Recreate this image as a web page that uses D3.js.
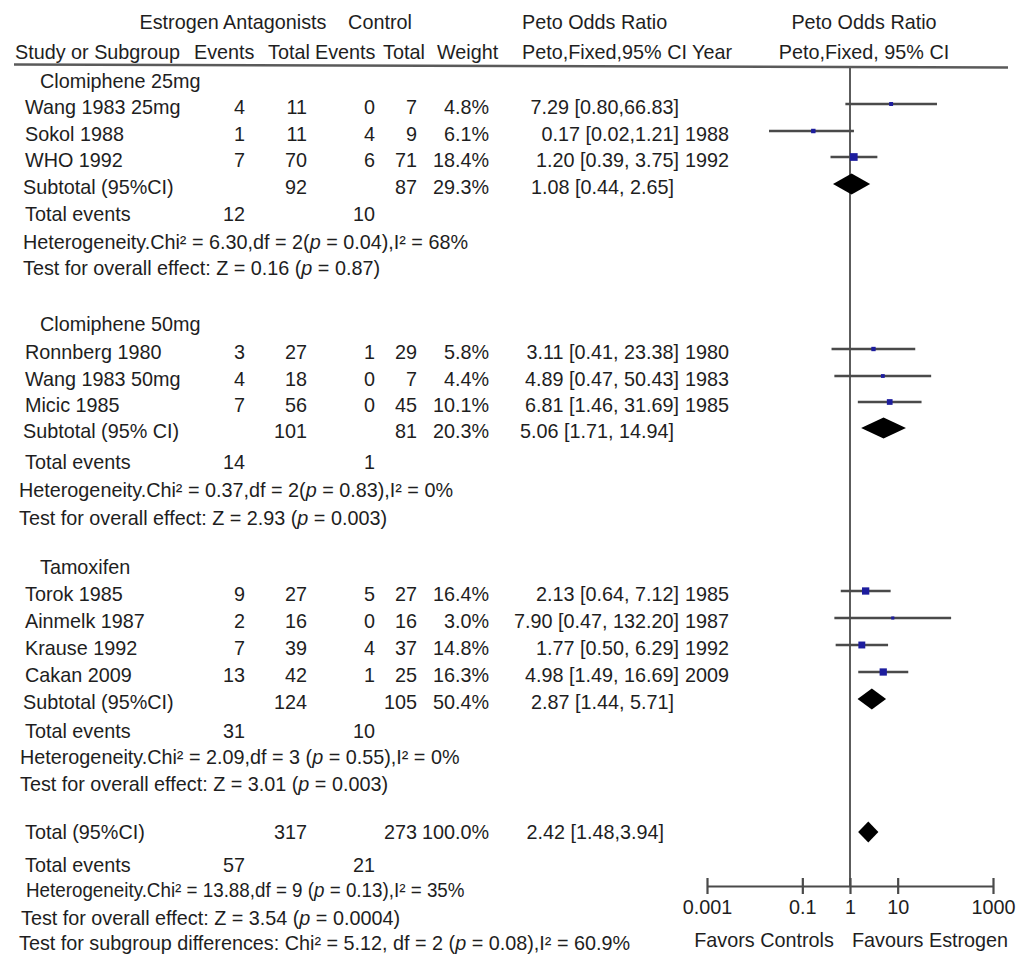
<!DOCTYPE html>
<html>
<head>
<meta charset="utf-8">
<script src="https://cdn.jsdelivr.net/npm/d3@7"></script>
<style>
  html, body { margin: 0; padding: 0; background: #fff; }
  svg text { font-family: "Liberation Sans", Arial, sans-serif; font-size: 19.8px; fill: #1e1e1e; }
</style>
</head>
<body>
<svg id="chart" width="1016" height="957"></svg>
<script>
// ---------------- data ----------------
const subgroups = ["Clomiphene 25mg", "Clomiphene 50mg", "Tamoxifen"];

const studies = ["Wang 1983 25mg", "Sokol 1988", "WHO 1992",
                 "Ronnberg 1980", "Wang 1983 50mg", "Micic 1985",
                 "Torok 1985", "Ainmelk 1987", "Krause 1992", "Cakan 2009"];
const studySubgroup = [0, 0, 0, 1, 1, 1, 2, 2, 2, 2];
const studyYear   = ["", "1988", "1992", "1980", "1983", "1985", "1985", "1987", "1992", "2009"];
const expEvents   = [4, 1, 7, 3, 4, 7, 9, 2, 7, 13];
const expTotal    = [11, 11, 70, 27, 18, 56, 27, 16, 39, 42];
const ctlEvents   = [0, 4, 6, 1, 0, 0, 5, 0, 4, 1];
const ctlTotal    = [7, 9, 71, 29, 7, 45, 27, 16, 37, 25];
const studyWeight = [4.8, 6.1, 18.4, 5.8, 4.4, 10.1, 16.4, 3.0, 14.8, 16.3];
const studyOR     = [7.29, 0.17, 1.20, 3.11, 4.89, 6.81, 2.13, 7.90, 1.77, 4.98];
const studyLow    = [0.80, 0.02, 0.39, 0.41, 0.47, 1.46, 0.64, 0.47, 0.50, 1.49];
const studyHigh   = [66.83, 1.21, 3.75, 23.38, 50.43, 31.69, 7.12, 132.20, 6.29, 16.69];
const studyCiSep  = [",", ",", ", ", ", ", ", ", ", ", ", ", ", ", ", ", ", "];

const subLabel     = ["Subtotal (95%CI)", "Subtotal (95% CI)", "Subtotal (95%CI)"];
const subExpTotal  = [92, 101, 124];
const subCtlTotal  = [87, 81, 105];
const subWeight    = [29.3, 20.3, 50.4];
const subOR        = [1.08, 5.06, 2.87];
const subLow       = [0.44, 1.71, 1.44];
const subHigh      = [2.65, 14.94, 5.71];
const subExpEvents = [12, 14, 31];
const subCtlEvents = [10, 1, 10];
const subHeterogeneity = [
  "Heterogeneity.Chi² = 6.30,df = 2(p = 0.04),I² = 68%",
  "Heterogeneity.Chi² = 0.37,df = 2(p = 0.83),I² = 0%",
  "Heterogeneity.Chi² = 2.09,df = 3 (p = 0.55),I² = 0%"
];
const subOverall = [
  "Test for overall effect: Z = 0.16 (p = 0.87)",
  "Test for overall effect: Z = 2.93 (p = 0.003)",
  "Test for overall effect: Z = 3.01 (p = 0.003)"
];

const totalLabel = "Total (95%CI)";
const totalExpTotal = 317;
const totalCtlTotal = 273;
const totalWeight = 100.0;
const totalOR = 2.42, totalLow = 1.48, totalHigh = 3.94;
const totalExpEvents = 57, totalCtlEvents = 21;
const totalHeterogeneity = "Heterogeneity.Chi² = 13.88,df = 9 (p = 0.13),I² = 35%";
const totalOverall = "Test for overall effect: Z = 3.54 (p = 0.0004)";
const subgroupDiff = "Test for subgroup differences: Chi² = 5.12, df = 2 (p = 0.08),I² = 60.9%";

const axisTicks = [0.001, 0.1, 1, 10, 1000];
const favourLeft = "Favors Controls";
const favourRight = ["Favours Estrogen", "Antagonists"];

// ---------------- layout ----------------
const svg = d3.select("#chart");

// vertical position of every table row
const rowKeys = ["h0", "s0", "s1", "s2", "sub0", "ev0", "het0", "z0",
                 "h1", "s3", "s4", "s5", "sub1", "ev1", "het1", "z1",
                 "h2", "s6", "s7", "s8", "s9", "sub2", "ev2", "het2", "z2",
                 "tot", "totev", "tothet", "totz", "diff"];
const rowPos  = [81, 107, 134, 160, 187, 214, 242, 268,
                 324, 352, 379, 405, 431, 462, 490, 518,
                 567, 594, 621, 648, 675, 702, 731, 757, 784,
                 832, 865, 890, 918, 943];
const rowY = d3.scaleOrdinal().domain(rowKeys).range(rowPos);
const markLift = 3;          // plotted marks sit slightly above the text centre line

const col = { name: 25, heading: 40, sub: 23, stat: 21,
              expEv: 245, expTot: 307, ctlEv: 375, ctlTot: 417, weight: 489,
              ciRight: 679, year: 685 };
const hetX = [23, 19, 20];

const x = d3.scaleLog().domain([0.001, 1000]).range([707, 993]);
const axisY = 886;

const f2 = d3.format(".2f");
const f1 = d3.format(".1f");
const ciText = (or, lo, hi, sep) => `${f2(or)} [${f2(lo)}${sep}${f2(hi)}]`;

// text helper; "(p" gets an italic p
function label(g, str, xPos, y, anchor) {
  const t = g.append("text")
    .attr("x", xPos).attr("y", y)
    .attr("dominant-baseline", "central")
    .attr("text-anchor", anchor || "start");
  const parts = str.split("(p");
  parts.forEach((p, i) => {
    if (i > 0) {
      t.append("tspan").text("(");
      t.append("tspan").attr("font-style", "italic").text("p");
    }
    t.append("tspan").text(p);
  });
  return t;
}

// ---------------- header ----------------
const head = svg.append("g");
label(head, "Estrogen Antagonists", 233, 22, "middle");
label(head, "Control", 380, 22, "middle");
label(head, "Peto Odds Ratio", 522, 22);
label(head, "Peto Odds Ratio", 864, 22, "middle");
label(head, "Study or Subgroup", 15, 52);
label(head, "Events", 194, 52);
label(head, "Total", 268, 52);
label(head, "Events", 315, 52);
label(head, "Total", 383, 52);
label(head, "Weight", 437, 52);
label(head, "Peto,Fixed,95% CI Year", 522, 52);
label(head, "Peto,Fixed, 95% CI", 864, 52, "middle");

head.append("line")
  .attr("x1", 14).attr("y1", 64.5).attr("x2", 1008).attr("y2", 67.5)
  .attr("stroke", "#5a5a5a").attr("stroke-width", 2.4);

// ---------------- null line ----------------
svg.append("line")
  .attr("x1", x(1)).attr("x2", x(1))
  .attr("y1", 68).attr("y2", axisY)
  .attr("stroke", "#5c5c5c").attr("stroke-width", 2);

// ---------------- table body ----------------
const body = svg.append("g");
const plot = svg.append("g");

function diamond(or, lo, hi, yc, h) {
  return `M${x(lo)},${yc} L${x(or)},${yc - h} L${x(hi)},${yc} L${x(or)},${yc + h} Z`;
}

subgroups.forEach((grp, gi) => {
  label(body, grp, col.heading, rowY("h" + gi));

  studies.forEach((s, i) => {
    if (studySubgroup[i] !== gi) return;
    const y = rowY("s" + i);
    label(body, s, col.name, y);
    label(body, String(expEvents[i]), col.expEv, y, "end");
    label(body, String(expTotal[i]), col.expTot, y, "end");
    label(body, String(ctlEvents[i]), col.ctlEv, y, "end");
    label(body, String(ctlTotal[i]), col.ctlTot, y, "end");
    label(body, f1(studyWeight[i]) + "%", col.weight, y, "end");
    label(body, ciText(studyOR[i], studyLow[i], studyHigh[i], studyCiSep[i]), col.ciRight, y, "end");
    if (studyYear[i]) label(body, studyYear[i], col.year, y);

    // confidence interval and weighted square
    const ym = y - markLift;
    plot.append("line")
      .attr("x1", x(studyLow[i])).attr("x2", x(studyHigh[i]))
      .attr("y1", ym).attr("y2", ym)
      .attr("stroke", "#4a4a4a").attr("stroke-width", 2.4);
    const side = 1.8 * Math.sqrt(studyWeight[i]);
    plot.append("rect")
      .attr("x", x(studyOR[i]) - side / 2).attr("y", ym - side / 2)
      .attr("width", side).attr("height", side)
      .attr("fill", "#1d1d9e");
  });

  const ys = rowY("sub" + gi);
  label(body, subLabel[gi], col.sub, ys);
  label(body, String(subExpTotal[gi]), col.expTot, ys, "end");
  label(body, String(subCtlTotal[gi]), col.ctlTot, ys, "end");
  label(body, f1(subWeight[gi]) + "%", col.weight, ys, "end");
  label(body, ciText(subOR[gi], subLow[gi], subHigh[gi], ", "), col.ciRight - 5, ys, "end");
  plot.append("path")
    .attr("d", diamond(subOR[gi], subLow[gi], subHigh[gi], ys - markLift, 10.5))
    .attr("fill", "#000");

  const ye = rowY("ev" + gi);
  label(body, "Total events", col.name, ye);
  label(body, String(subExpEvents[gi]), col.expEv, ye, "end");
  label(body, String(subCtlEvents[gi]), col.ctlEv, ye, "end");

  label(body, subHeterogeneity[gi], hetX[gi], rowY("het" + gi));
  label(body, subOverall[gi], hetX[gi], rowY("z" + gi));
});

// overall
const yt = rowY("tot");
label(body, totalLabel, col.name, yt);
label(body, String(totalExpTotal), col.expTot, yt, "end");
label(body, String(totalCtlTotal), col.ctlTot, yt, "end");
label(body, f1(totalWeight) + "%", col.weight, yt, "end");
label(body, ciText(totalOR, totalLow, totalHigh, ","), col.ciRight - 15, yt, "end");
plot.append("path")
  .attr("d", diamond(totalOR, totalLow, totalHigh, yt, 10.5))
  .attr("fill", "#000");

const ytev = rowY("totev");
label(body, "Total events", col.name, ytev);
label(body, String(totalExpEvents), col.expEv, ytev, "end");
label(body, String(totalCtlEvents), col.ctlEv, ytev, "end");
// this line is set slightly narrower than the rest
const narrow = body.append("g")
  .attr("transform", `translate(26,${rowY("tothet")}) scale(0.95,1)`);
label(narrow, totalHeterogeneity, 0, 0);
label(body, totalOverall, col.stat, rowY("totz"));
label(body, subgroupDiff, 19, rowY("diff"));

// ---------------- axis ----------------
const axis = d3.axisBottom(x)
  .tickValues(axisTicks)
  .tickFormat(d3.format("~g"))
  .tickSizeInner(8).tickSizeOuter(0);
const ax = svg.append("g").attr("transform", `translate(0,${axisY})`).call(axis);
ax.select(".domain").attr("stroke", "#4a4a4a").attr("stroke-width", 2.2);
ax.selectAll(".tick line").attr("y1", -8).attr("y2", 8)
  .attr("stroke", "#4a4a4a").attr("stroke-width", 2.2);
ax.selectAll(".tick text")
  .attr("y", 21).attr("dy", null)
  .attr("dominant-baseline", "central")
  .style("font-family", '"Liberation Sans", Arial, sans-serif')
  .style("font-size", "19.8px").style("fill", "#1e1e1e");

label(svg, favourLeft, 764, 940, "middle");
label(svg, favourRight[0], 852, 940);
label(svg, favourRight[1], 905, 970, "middle");
</script>
</body>
</html>
